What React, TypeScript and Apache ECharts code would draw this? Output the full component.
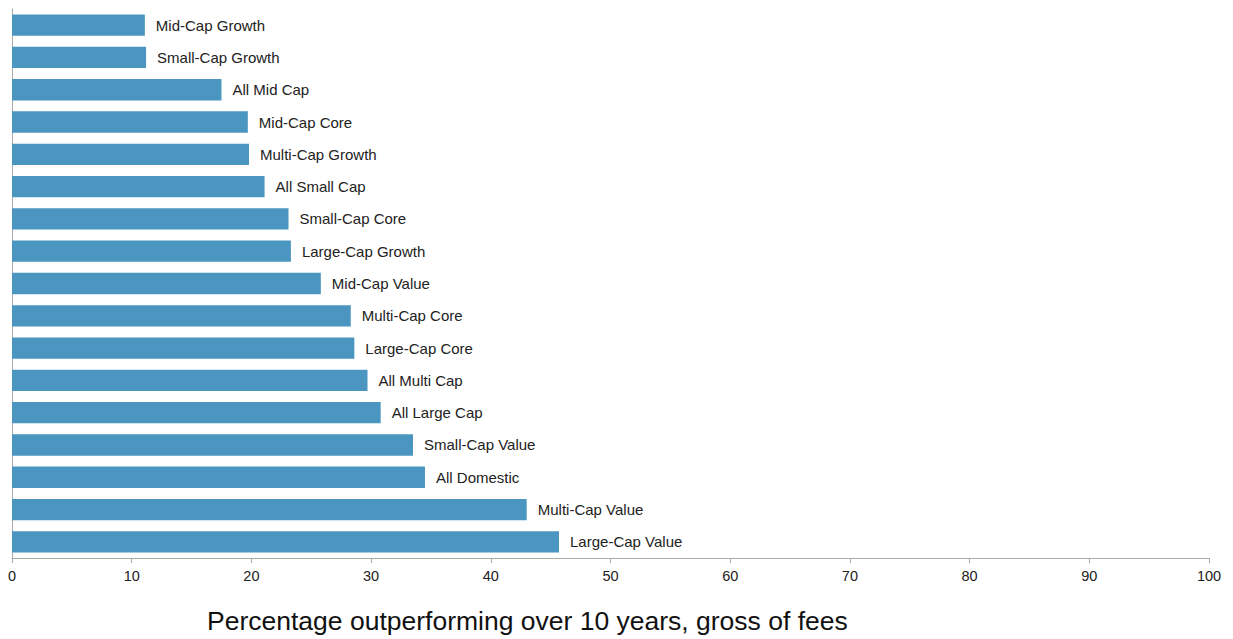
import React, { useEffect, useRef } from "react";
import * as echarts from "echarts";

const categories = [
  "Mid-Cap Growth",
  "Small-Cap Growth",
  "All Mid Cap",
  "Mid-Cap Core",
  "Multi-Cap Growth",
  "All Small Cap",
  "Small-Cap Core",
  "Large-Cap Growth",
  "Mid-Cap Value",
  "Multi-Cap Core",
  "Large-Cap Core",
  "All Multi Cap",
  "All Large Cap",
  "Small-Cap Value",
  "All Domestic",
  "Multi-Cap Value",
  "Large-Cap Value",
];
const values = [11.1, 11.2, 17.5, 19.7, 19.8, 21.1, 23.1, 23.3, 25.8, 28.3, 28.6, 29.7, 30.8, 33.5, 34.5, 43.0, 45.7];
const xTicks = [0, 10, 20, 30, 40, 50, 60, 70, 80, 90, 100];
const axisTitle = "Percentage outperforming over 10 years, gross of fees";

export default function App() {
  const ref = useRef<HTMLDivElement>(null);
  useEffect(() => {
    if (!ref.current) return;
    const chart = echarts.init(ref.current, undefined, { renderer: "svg" });
    chart.setOption({
      animation: false,
      textStyle: { fontFamily: "Liberation Sans, Arial, sans-serif" },
      grid: { left: 12, right: 24, top: 9, bottom: 81, containLabel: false },
      xAxis: {
        type: "value",
        min: xTicks[0],
        max: xTicks[xTicks.length - 1],
        interval: 10,
        axisLine: { show: true, lineStyle: { color: "#aaaaaa", width: 1 } },
        axisTick: { show: true, length: 5, lineStyle: { color: "#aaaaaa" } },
        axisLabel: { color: "#222222", fontSize: 14.5, margin: 10 },
        splitLine: { show: false },
      },
      yAxis: {
        type: "category",
        data: categories,
        inverse: true,
        axisLine: { show: true, lineStyle: { color: "#aaaaaa", width: 1 } },
        axisTick: { show: false },
        axisLabel: { show: false },
        splitLine: { show: false },
      },
      series: [
        {
          type: "bar",
          data: values,
          barWidth: "66%",
          itemStyle: { color: "#4a96c0" },
          label: {
            show: true,
            position: "right",
            distance: 11,
            formatter: (p: any) => categories[p.dataIndex],
            color: "#222222",
            fontSize: 15,
          },
        },
      ],
      graphic: [
        {
          type: "text",
          left: 207,
          top: 607,
          style: {
            text: axisTitle,
            fontSize: 26.5,
            fill: "#111111",
            fontFamily: "Liberation Sans, Arial, sans-serif",
          },
        },
      ],
    });
    return () => chart.dispose();
  }, []);
  return <div ref={ref} style={{ width: 1233, height: 639, position: "absolute", left: 0, top: 0 }} />;
}
